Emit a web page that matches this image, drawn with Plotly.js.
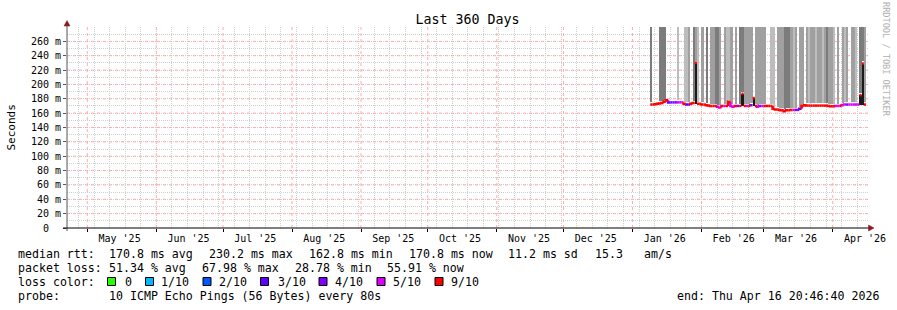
<!DOCTYPE html>
<html><head><meta charset="utf-8">
<script src="https://cdn.plot.ly/plotly-3.0.1.min.js"></script>
<style>html,body{margin:0;padding:0;background:#fff}#chart{width:897px;height:310px}</style>
</head><body><div id="chart"></div>
<script>
// ---------------- data ----------------
const rangeStart = '2025-04-21 20:46:40';
const rangeEnd = '2026-04-16 20:46:40';
const firstDay = '2026-01-09'; // first daily sample of the median RTT series

// median RTT per day (ms)
const medianMs = [
  172, 172, 172.5, 173, 173.5, 174, 176, 178, 175, 175,
  175, 175, 175, 175, 175, 173, 172, 172, 173, 174,
  230.2, 173, 173, 172, 172, 171, 170.5, 170, 170, 170,
  169, 168, 170, 170, 170, 176, 170, 169, 170, 170,
  170, 187, 170, 170, 170, 171, 181, 170, 169, 170,
  170, 170, 170, 170, 170, 166, 165, 165, 164.5, 164,
  162.8, 164, 164, 164.5, 164.5, 164.5, 164.5, 166, 170, 171,
  170.5, 170.5, 170.5, 170.5, 170.5, 170.5, 170.5, 170.5, 170.5, 170.5,
  170, 169.5, 169.5, 170, 170, 170, 171, 172, 172, 172,
  172, 172, 172, 172, 185, 229, 172
];
// lost pings out of 10 per day
const lossCount = [
  9, 9, 9, 9, 9, 9, 9, 9, 4, 4,
  4, 4, 5, 5, 5, 9, 3, 4, 9, 9,
  9, 9, 9, 9, 9, 9, 9, 9, 9, 9,
  5, 5, 9, 5, 9, 9, 5, 5, 9, 4,
  9, 9, 9, 5, 9, 4, 9, 9, 5, 4,
  5, 9, 9, 9, 9, 9, 9, 9, 9, 9,
  9, 9, 9, 9, 5, 4, 4, 3, 9, 9,
  9, 9, 9, 9, 9, 9, 9, 9, 9, 9,
  9, 9, 9, 5, 5, 9, 5, 5, 4, 5,
  5, 5, 5, 5, 9, 9, 9
];
// smoke density per day (0 none, 1 light, 2 medium, 3 dark)
const smokeShade = [
  3, 0, 0, 0, 3, 3, 3, 0, 0, 0,
  0, 0, 1, 0, 0, 1, 1, 2, 0, 3,
  2, 1, 0, 2, 0, 3, 0, 2, 2, 3,
  3, 2, 0, 2, 1, 1, 2, 0, 2, 0,
  3, 3, 2, 2, 2, 2, 0, 2, 2, 2,
  2, 2, 0, 0, 1, 1, 0, 2, 2, 2,
  3, 3, 3, 2, 1, 2, 0, 2, 2, 0,
  2, 1, 2, 2, 1, 2, 2, 1, 2, 3,
  2, 2, 1, 0, 2, 0, 2, 1, 2, 0,
  2, 2, 1, 0, 3, 3, 2
];

const monthStarts = ['2025-05-01','2025-06-01','2025-07-01','2025-08-01','2025-09-01','2025-10-01',
  '2025-11-01','2025-12-01','2026-01-01','2026-02-01','2026-03-01','2026-04-01'];
const monthLabelDates = ['2025-05-15 12:00','2025-06-15 12:00','2025-07-15 12:00','2025-08-15 12:00',
  '2025-09-15 12:00','2025-10-15 12:00','2025-11-15 12:00','2025-12-15 12:00','2026-01-15 12:00',
  '2026-02-15 12:00','2026-03-15 12:00','2026-04-15 12:00'];
const monthLabels = ["May '25","Jun '25","Jul '25","Aug '25","Sep '25","Oct '25",
  "Nov '25","Dec '25","Jan '26","Feb '26","Mar '26","Apr '26"];

const yTickVals = [0,20,40,60,80,100,120,140,160,180,200,220,240,260];
const yTickText = ['0\u00a0\u00a0','20 m','40 m','60 m','80 m','100 m','120 m','140 m','160 m',
  '180 m','200 m','220 m','240 m','260 m'];

const lossLevels = [0, 1, 2, 3, 4, 5, 9];
const lossNames = ['0', '1/10', '2/10', '3/10', '4/10', '5/10', '9/10'];
const lossColors = ['#26ff00', '#00b8ff', '#0059ff', '#5e00ff', '#7e00ff', '#dd00ff', '#ff0000'];

const rttStats = ['170.8 ms avg', '230.2 ms max', '162.8 ms min', '170.8 ms now', '11.2 ms sd', '15.3', 'am/s'];
const lossStats = ['51.34 % avg', '67.98 % max', '28.78 % min', '55.91 % now'];
const probeText = '10 ICMP Echo Pings (56 Bytes) every 80s';
const endText = 'end: Thu Apr 16 20:46:40 2026';

// ---------------- build ----------------
const MONO = 'DejaVu Sans Mono, monospace';
const DAY = 86400000;
function dayAt(k) {
  const p = firstDay.split('-').map(Number);
  const d = new Date(Date.UTC(p[0], p[1] - 1, p[2] + k));
  return d.toISOString().slice(0, 10);
}
const days = medianMs.map((_, k) => dayAt(k));

const traces = [];
const shadeColors = [null, '#bdbdbd', '#a0a0a0', '#7c7c7c'];
[1, 2, 3].forEach(level => {
  const xs = [], base = [], ys = [];
  smokeShade.forEach((s, k) => {
    if (s !== level) return;
    xs.push(days[k]);
    base.push(medianMs[k] + 3);
    ys.push(320 - (medianMs[k] + 3));
  });
  traces.push({type: 'bar', x: xs, y: ys, base: base, width: DAY, offset: 0,
    marker: {color: shadeColors[level], line: {width: 0}}, hoverinfo: 'skip', showlegend: false});
});

// dense smoke core under spikes
{
  const xs = [], base = [], ys = [];
  medianMs.forEach((v, k) => {
    if (v > 178) {
      const ref = Math.min(medianMs[k - 1], medianMs[k + 1] ?? medianMs[k - 1]);
      xs.push(days[k]); base.push(ref); ys.push(v - ref);
    }
  });
  traces.push({type: 'bar', x: xs, y: ys, base: base, width: DAY, offset: 0,
    marker: {color: '#1a1a1a', line: {width: 0}}, hoverinfo: 'skip', showlegend: false});
}

// loss-coloured median line
lossLevels.forEach((lv, ci) => {
  const xs = [], ys = [];
  medianMs.forEach((v, k) => {
    if (lossCount[k] !== lv) return;
    const prev = k > 0 ? medianMs[k - 1] : v;
    if (Math.abs(v - prev) < 8) { xs.push(days[k]); ys.push(prev); }
    xs.push(days[k], dayAt(k + 1), null);
    ys.push(v, v, null);
  });
  if (xs.length) traces.push({type: 'scatter', mode: 'lines', x: xs, y: ys,
    line: {color: lossColors[ci], width: 2.5}, hoverinfo: 'skip', showlegend: false, connectgaps: false});
});

// carrier trace for the label axis
traces.push({type: 'scatter', mode: 'markers', x: [rangeStart], y: [null], xaxis: 'x2', yaxis: 'y',
  hoverinfo: 'skip', showlegend: false});

// ---------------- layout ----------------
const L = 67, B = 228; // plot-area left edge and bottom edge (pixels)
const ann = [];
function txt(px, py, text, opts) {
  ann.push(Object.assign({xref: 'paper', yref: 'paper', x: 0, y: 0, xshift: px - L, yshift: B - py,
    xanchor: 'left', yanchor: 'middle', showarrow: false, text: text,
    font: {family: MONO, size: 11.6, color: '#000'}}, opts || {}));
}
txt(16, 254, 'median rtt:');
[107, 207, 307, 407, 506, 593, 642].forEach((px, i) => txt(px, 254, rttStats[i]));
txt(16, 268, 'packet loss:');
[107, 200, 293, 385].forEach((px, i) => txt(px, 268, lossStats[i]));
txt(16, 282, 'loss color:');
const boxX = [107.5, 145.5, 203, 260.5, 319, 377, 435];
const boxLabelX = [122.7, 159.3, 217, 275.5, 333.3, 391, 448.5];
const shapes = [];

// major (red) grid drawn over the grey minor grid, under the data
const redLine = () => ({color: '#ffadad', width: 1, dash: 'dot'});
monthStarts.forEach(d => shapes.push({type: 'line', xref: 'x', yref: 'y', x0: d, x1: d, y0: 0, y1: 280,
  line: redLine(), layer: 'between'}));
yTickVals.filter(v => v > 0).forEach(v => shapes.push({type: 'line', xref: 'x', yref: 'y',
  x0: rangeStart, x1: rangeEnd, y0: v, y1: v, line: redLine(), layer: 'between'}));

lossNames.forEach((n, i) => {
  txt(boxLabelX[i], 282, n);
  shapes.push({type: 'rect', xref: 'paper', yref: 'paper', xsizemode: 'pixel', ysizemode: 'pixel',
    xanchor: 0, yanchor: 0, x0: boxX[i] - L, x1: boxX[i] - L + 8, y0: B - 285.5, y1: B - 277.5,
    fillcolor: lossColors[i], line: {color: '#000', width: 1}});
});
txt(16, 296, 'probe:');
txt(107, 296, probeText);
txt(881, 296, endText, {xanchor: 'right'});

// axis title and watermark
txt(11, 127.5, 'Seconds', {xanchor: 'center', textangle: -90, font: {family: MONO, size: 11, color: '#000'}});
txt(886, 59, 'RRDTOOL / TOBI OETIKER', {xanchor: 'center', textangle: 90, font: {family: MONO, size: 8.6, color: '#b0b0b0'}});

// axis lines and arrows
shapes.push({type: 'line', xref: 'paper', yref: 'paper', xsizemode: 'pixel', ysizemode: 'pixel', xanchor: 0, yanchor: 0,
  x0: 0, x1: 0, y0: -3, y1: 204, line: {color: '#555', width: 1}, layer: 'above'});
shapes.push({type: 'line', xref: 'paper', yref: 'paper', xsizemode: 'pixel', ysizemode: 'pixel', xanchor: 0, yanchor: 0,
  x0: -4, x1: 803, y0: 0, y1: 0, line: {color: '#000', width: 1}, layer: 'above'});
shapes.push({type: 'path', xref: 'paper', yref: 'paper', xsizemode: 'pixel', ysizemode: 'pixel', xanchor: 0, yanchor: 0,
  path: 'M -3 202 L 3 202 L 0 207.5 Z', fillcolor: '#8b1a1a', line: {color: '#8b1a1a', width: 0.5}, layer: 'above'});
shapes.push({type: 'path', xref: 'paper', yref: 'paper', xsizemode: 'pixel', ysizemode: 'pixel', xanchor: 0, yanchor: 0,
  path: 'M 801.5 -3 L 801.5 3 L 807 0 Z', fillcolor: '#8b1a1a', line: {color: '#8b1a1a', width: 0.5}, layer: 'above'});

const GREY = '#cfcfcf';
const layout = {
  width: 897, height: 310,
  margin: {l: 67, r: 29, t: 27, b: 82, pad: 0},
  paper_bgcolor: '#fff', plot_bgcolor: '#fff',
  barmode: 'overlay', bargap: 0,
  showlegend: false,
  title: {text: 'Last 360 Days', x: 0.5, xanchor: 'center', xref: 'paper', y: 1 - 19 / 310, yanchor: 'middle',
    font: {family: MONO, size: 13.3, color: '#000'}},
  xaxis: {type: 'date', range: [rangeStart, rangeEnd], tickmode: 'array', tickvals: monthStarts,
    showticklabels: false, ticks: 'outside', ticklen: 3, tickcolor: '#000', tickwidth: 1,
    showgrid: false,
    minor: {dtick: 7 * DAY, tick0: '2025-04-27', showgrid: true, gridcolor: GREY, griddash: '1px,1px', gridwidth: 1, ticks: ''},
    zeroline: false, showline: false, automargin: false, fixedrange: true},
  xaxis2: {type: 'date', overlaying: 'x', anchor: 'y', side: 'bottom', range: [rangeStart, rangeEnd],
    tickmode: 'array', tickvals: monthLabelDates, ticktext: monthLabels, ticks: '', showgrid: false,
    zeroline: false, showline: false, automargin: false, ticklabelstandoff: 3,
    tickfont: {family: MONO, size: 10, color: '#000'}, fixedrange: true},
  yaxis: {range: [0, 280], tickmode: 'array', tickvals: yTickVals, ticktext: yTickText,
    ticks: 'outside', ticklen: 3, tickcolor: '#555', tickwidth: 1,
    showgrid: false,
    minor: {dtick: 10, tick0: 0, showgrid: true, gridcolor: GREY, griddash: '1px,1px', gridwidth: 1, ticks: ''},
    zeroline: false, showline: false, automargin: false, fixedrange: true,
    tickfont: {family: MONO, size: 10, color: '#000'}},
  annotations: ann,
  shapes: shapes
};

Plotly.newPlot('chart', traces, layout, {staticPlot: true, displayModeBar: false});
</script>
</body></html>
